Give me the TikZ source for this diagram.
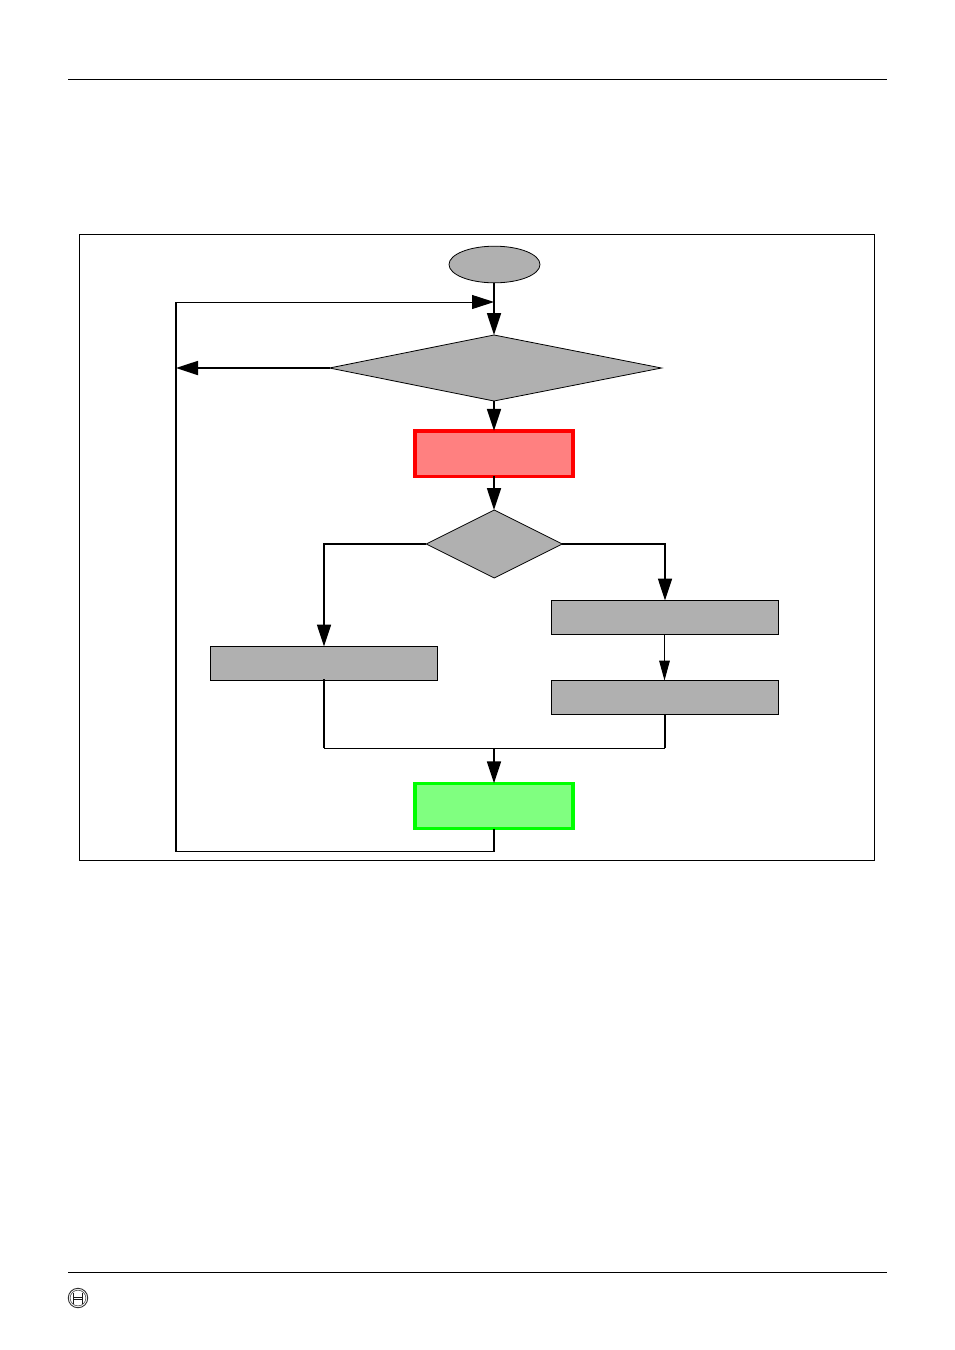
\documentclass[tikz,border=0pt]{standalone}
\usetikzlibrary{arrows.meta,shapes.geometric,calc}
\definecolor{boxgray}{HTML}{B0B0B0}
\definecolor{softred}{HTML}{FF8080}
\definecolor{softgreen}{HTML}{80FF80}
\tikzset{
  x=0.75pt,y=-0.75pt,
  thinln/.style={draw=black,line width=0.75pt},
  conn/.style={draw=black,line width=1.3pt},
  bighead/.style={-{Triangle[length=16.5pt,width=10.5pt]}},
  smallhead/.style={-{Triangle[length=15pt,width=8pt]}},
  grayfill/.style={fill=boxgray,draw=black,line width=0.6pt,inner sep=0pt,outer sep=0pt},
  graybox/.style={grayfill,rectangle,minimum width=170.25pt,minimum height=25.5pt},
  colbox/.style={rectangle,line width=2.5pt,inner sep=0pt,outer sep=0pt,minimum width=118.5pt,minimum height=34pt},
}
\begin{document}
\begin{tikzpicture}
\useasboundingbox (0,0) rectangle (954,1350);
\fill[white] (0,0) rectangle (954,1350);
% page rules and figure frame
\coordinate (ruleTopL) at (68,79.5); \coordinate (ruleTopR) at (887,79.5);
\coordinate (ruleBotL) at (68,1272.5); \coordinate (ruleBotR) at (887,1272.5);
\draw[thinln] (ruleTopL) -- (ruleTopR);
\draw[thinln] (ruleBotL) -- (ruleBotR);
\node[rectangle,draw=black,line width=0.75pt,minimum width=596.25pt,minimum height=469.5pt,inner sep=0pt,outer sep=0pt] (frame) at (477,547.5) {};
% logo
\node[circle,draw=black!80,line width=0.7pt,minimum size=14.6pt,inner sep=0pt] (logoOuter) at (78,1298) {};
\node[circle,draw=black!70,line width=0.45pt,minimum size=11.8pt,inner sep=0pt] (logoInner) at (78,1298) {};
\draw[line width=0.75pt,black!90] (73.2,1292.5) -- (73.2,1303.5) (82.8,1292.5) -- (82.8,1303.5);
\draw[line width=0.4pt,black!90] (73.2,1297) -- (82.8,1297) (73.2,1299) -- (82.8,1299);
% nodes
\node[grayfill,ellipse,minimum width=68.25pt,minimum height=27.5pt] (start) at (494.5,264.5) {};
\coordinate (dT) at (494,335); \coordinate (dL) at (329.5,368);
\coordinate (dB) at (494,401); \coordinate (dR) at (661.5,368);
\filldraw[fill=boxgray,draw=black,line width=0.6pt] (dT) -- (dR) -- (dB) -- (dL) -- cycle;
\node[colbox,draw=red,fill=softred] (red) at (494,453.5) {};
\node[grayfill,diamond,aspect=2,minimum width=102pt,minimum height=51pt] (dec) at (494.3,544) {};
\node[graybox] (lbox) at (324,663.5) {};
\node[graybox] (rtop) at (665,617.5) {};
\node[graybox] (rbot) at (665,697.5) {};
\node[colbox,draw=green,fill=softgreen] (grn) at (494,806) {};
% helper points
\coordinate (join) at (494,302);
\coordinate (back) at (176,302);
\coordinate (side) at (176,368);
\coordinate (merge) at (494,748);
\coordinate (low) at (176,851.5);
\coordinate (grnlow) at (494,851.5);
\coordinate (lboxtop) at (324,679);
\coordinate (rleft) at (664.5,634.5);
\coordinate (rright) at (664.5,680.5);
\coordinate (mleft) at (324,748);
\coordinate (mright) at (665,748);
% connectors
\draw[conn,bighead] (start.south -| dT) -- (dT);
\draw[thinln,bighead] (back) -- (join);
\draw[conn] (back) -- (low);
\draw[conn,bighead] (dL) -- (side);
\draw[conn,bighead] (dB) -- (red.north);
\draw[conn,bighead] (red.south) -- (dec.north -| red.south);
\draw[conn,bighead] (dec.west) -| (lbox.north);
\draw[conn,bighead] (dec.east) -| (rtop.north);
\draw[thinln,smallhead] (rleft) -- (rright);
\draw[conn] (lboxtop) -- (mleft);
\draw[conn] (rbot.south) -- (mright);
\draw[thinln] (mleft) -- (mright);
\draw[conn,bighead] (merge) -- (grn.north);
\draw[conn] (grn.south) -- (grnlow);
\draw[thinln] (grnlow) -- (low);
\end{tikzpicture}
\end{document}
